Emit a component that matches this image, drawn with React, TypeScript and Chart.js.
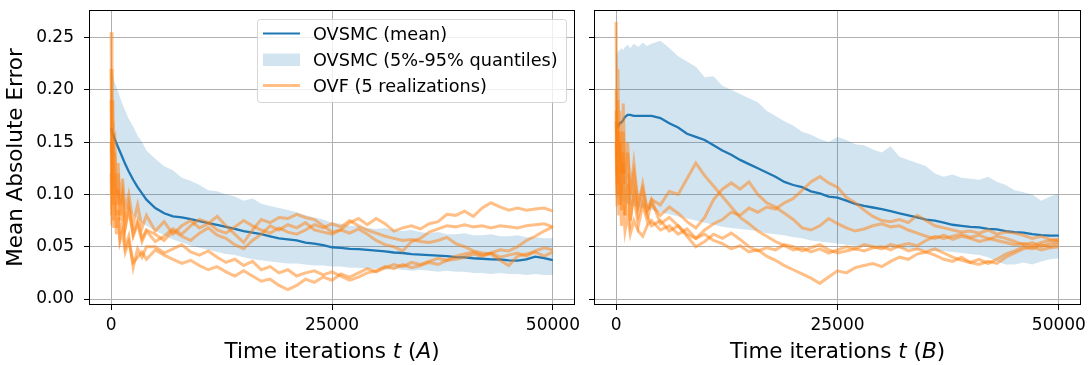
import React, { useEffect, useRef } from 'react';
import { Chart, registerables } from 'chart.js';

Chart.register(...registerables);

// ---------------- data ----------------
const T = [0, 100, 200, 300, 400, 600, 800, 1000, 1300, 1600, 2000, 2500, 3000, 3500, 4000,
  5000, 6000, 7000, 8000, 9000, 10000, 11000, 12000, 13000, 14000,
  15000, 16000, 17000, 18000, 19000, 20000, 21000, 22000, 23000, 24000,
  25000, 26000, 27000, 28000, 29000, 30000, 31000, 32000, 33000, 34000,
  35000, 36000, 37000, 38000, 39000, 40000, 41000, 42000, 43000, 44000,
  45000, 46000, 47000, 48000, 49000, 50000];

const X_TICKS = [0, 25000, 50000];
const Y_TICKS = [0, 0.05, 0.1, 0.15, 0.2, 0.25];
const Y_LABEL = 'Mean Absolute Error';
const X_TITLE_PARTS: [string, boolean][] = [['Time iterations ', false], ['t', true], [' (', false], ['#', true], [')', false]];
const PANEL_LETTERS = ['A', 'B'];
const LEGEND_LABELS = ['OVSMC (mean)', 'OVSMC (5%-95% quantiles)', 'OVF (5 realizations)'];

// Panel A
const meanA = [0.163, 0.160, 0.158, 0.156, 0.153, 0.149, 0.145, 0.141, 0.135, 0.129, 0.122, 0.114, 0.107, 0.101, 0.095,
  0.087, 0.082, 0.079, 0.078, 0.0765, 0.0745, 0.0725, 0.071, 0.069, 0.067,
  0.065, 0.0635, 0.062, 0.060, 0.058, 0.057, 0.056, 0.054, 0.053, 0.0515,
  0.0495, 0.049, 0.048, 0.0478, 0.047, 0.0462, 0.0455, 0.0445, 0.044, 0.043,
  0.0425, 0.042, 0.0415, 0.041, 0.040, 0.0398, 0.039, 0.0385, 0.038, 0.0378,
  0.037, 0.0368, 0.038, 0.0405, 0.039, 0.0373];
const upperA = [0.222, 0.219, 0.215, 0.211, 0.207, 0.203, 0.198, 0.193, 0.186, 0.180, 0.172, 0.165, 0.156, 0.150, 0.142,
  0.134, 0.127, 0.123, 0.116, 0.113, 0.109, 0.104, 0.103, 0.100, 0.098,
  0.094, 0.096, 0.091, 0.089, 0.087, 0.085, 0.083, 0.080, 0.078, 0.076,
  0.073, 0.072, 0.070, 0.070, 0.068, 0.067, 0.068, 0.066, 0.065, 0.066,
  0.064, 0.063, 0.064, 0.062, 0.062, 0.063, 0.061, 0.061, 0.062, 0.060,
  0.060, 0.061, 0.059, 0.059, 0.058, 0.058];
const lowerA = [0.128, 0.118, 0.110, 0.104, 0.100, 0.097, 0.095, 0.093, 0.090, 0.088, 0.084, 0.080, 0.077, 0.073, 0.070,
  0.065, 0.061, 0.057, 0.054, 0.051, 0.049, 0.047, 0.045, 0.043, 0.042,
  0.040, 0.038, 0.037, 0.036, 0.035, 0.034, 0.034, 0.033, 0.032, 0.032,
  0.031, 0.031, 0.030, 0.030, 0.029, 0.029, 0.028, 0.029, 0.028, 0.027,
  0.028, 0.027, 0.026, 0.027, 0.026, 0.026, 0.025, 0.025, 0.024, 0.025,
  0.024, 0.024, 0.023, 0.024, 0.023, 0.023];
const ovfA1 = [0.255, 0.14, 0.19, 0.12, 0.16, 0.10, 0.13, 0.09, 0.115, 0.085, 0.10, 0.072, 0.09, 0.068, 0.08,
  0.065, 0.074, 0.062, 0.070, 0.075, 0.068, 0.072, 0.079, 0.070, 0.062,
  0.054, 0.066, 0.076, 0.073, 0.078, 0.077, 0.081, 0.078, 0.076, 0.070,
  0.064, 0.066, 0.073, 0.077, 0.071, 0.077, 0.072, 0.065, 0.068, 0.070,
  0.067, 0.072, 0.074, 0.081, 0.080, 0.084, 0.079, 0.087, 0.092, 0.088,
  0.085, 0.087, 0.085, 0.086, 0.087, 0.084];
const ovfA2 = [0.19, 0.10, 0.15, 0.09, 0.12, 0.08, 0.105, 0.075, 0.095, 0.068, 0.085, 0.062, 0.075, 0.058, 0.066,
  0.062, 0.056, 0.065, 0.060, 0.056, 0.063, 0.068, 0.061, 0.058, 0.052,
  0.048, 0.056, 0.062, 0.070, 0.066, 0.071, 0.068, 0.073, 0.066, 0.064,
  0.062, 0.066, 0.063, 0.067, 0.062, 0.056, 0.052, 0.050, 0.046, 0.055,
  0.058, 0.064, 0.067, 0.070, 0.069, 0.071, 0.069, 0.070, 0.068, 0.070,
  0.069, 0.068, 0.070, 0.071, 0.072, 0.069];
const ovfA3 = [0.22, 0.12, 0.17, 0.10, 0.14, 0.09, 0.12, 0.08, 0.10, 0.07, 0.09, 0.06, 0.072, 0.055, 0.065,
  0.055, 0.060, 0.067, 0.062, 0.070, 0.076, 0.073, 0.066, 0.063, 0.069,
  0.075, 0.070, 0.066, 0.063, 0.068, 0.064, 0.062, 0.066, 0.071, 0.068,
  0.072, 0.069, 0.075, 0.070, 0.066, 0.063, 0.060, 0.058, 0.056, 0.057,
  0.055, 0.054, 0.056, 0.059, 0.053, 0.050, 0.046, 0.044, 0.043, 0.037,
  0.032, 0.041, 0.043, 0.045, 0.041, 0.045];
const ovfA4 = [0.15, 0.08, 0.12, 0.075, 0.10, 0.068, 0.085, 0.06, 0.075, 0.05, 0.06, 0.03, 0.048, 0.04, 0.05,
  0.05, 0.044, 0.048, 0.052, 0.045, 0.042, 0.046, 0.04, 0.035, 0.038,
  0.032, 0.036, 0.028, 0.031, 0.025, 0.028, 0.022, 0.025, 0.027, 0.023,
  0.026, 0.022, 0.018, 0.021, 0.025, 0.027, 0.031, 0.029, 0.033, 0.030,
  0.032, 0.035, 0.033, 0.037, 0.038, 0.040, 0.043, 0.041, 0.044, 0.047,
  0.046, 0.050, 0.056, 0.060, 0.065, 0.069];
const ovfA5 = [0.12, 0.07, 0.10, 0.068, 0.09, 0.062, 0.078, 0.055, 0.065, 0.045, 0.055, 0.035, 0.04, 0.045, 0.038,
  0.047, 0.042, 0.038, 0.034, 0.037, 0.032, 0.028, 0.031, 0.026, 0.022,
  0.027, 0.022, 0.017, 0.019, 0.013, 0.009, 0.013, 0.019, 0.016, 0.021,
  0.018, 0.024, 0.021, 0.025, 0.029, 0.026, 0.030, 0.033, 0.031, 0.035,
  0.033, 0.036, 0.039, 0.037, 0.041, 0.043, 0.045, 0.042, 0.044, 0.040,
  0.042, 0.044, 0.041, 0.046, 0.049, 0.047];

// Panel B
const meanB = [0.166, 0.165, 0.167, 0.166, 0.168, 0.169, 0.171, 0.174, 0.176, 0.176, 0.175, 0.175, 0.175, 0.175, 0.175,
  0.173, 0.168, 0.164, 0.158, 0.155, 0.152, 0.147, 0.142, 0.138, 0.133,
  0.129, 0.125, 0.121, 0.117, 0.112, 0.109, 0.107, 0.103, 0.101, 0.098,
  0.097, 0.094, 0.091, 0.089, 0.0875, 0.086, 0.084, 0.082, 0.080, 0.078,
  0.076, 0.075, 0.073, 0.071, 0.070, 0.069, 0.0685, 0.067, 0.0665, 0.065,
  0.064, 0.0635, 0.062, 0.061, 0.0607, 0.0607];
const upperB = [0.232, 0.235, 0.236, 0.238, 0.237, 0.240, 0.238, 0.241, 0.243, 0.240, 0.244, 0.241, 0.245, 0.242, 0.244,
  0.247, 0.240, 0.232, 0.227, 0.222, 0.212, 0.213, 0.204, 0.200, 0.196,
  0.192, 0.188, 0.180, 0.175, 0.170, 0.166, 0.160, 0.157, 0.153, 0.150,
  0.155, 0.152, 0.148, 0.147, 0.143, 0.140, 0.146, 0.136, 0.133, 0.130,
  0.127, 0.120, 0.117, 0.119, 0.116, 0.115, 0.114, 0.117, 0.112, 0.109,
  0.104, 0.102, 0.100, 0.094, 0.098, 0.101];
const lowerB = [0.100, 0.098, 0.097, 0.096, 0.095, 0.094, 0.093, 0.092, 0.091, 0.090, 0.089, 0.088, 0.087, 0.086, 0.085,
  0.083, 0.081, 0.079, 0.077, 0.075, 0.073, 0.071, 0.069, 0.068, 0.067,
  0.066, 0.065, 0.063, 0.062, 0.061, 0.059, 0.058, 0.056, 0.055, 0.054,
  0.053, 0.052, 0.051, 0.050, 0.050, 0.049, 0.049, 0.048, 0.048, 0.047,
  0.047, 0.046, 0.046, 0.045, 0.044, 0.043, 0.042, 0.040, 0.036, 0.033,
  0.033, 0.035, 0.033, 0.036, 0.038, 0.039];
const ovfB1 = [0.265, 0.15, 0.22, 0.13, 0.18, 0.12, 0.16, 0.11, 0.14, 0.10, 0.12, 0.09, 0.105, 0.085, 0.095,
  0.072, 0.078, 0.070, 0.062, 0.058, 0.066, 0.072, 0.076, 0.083, 0.080,
  0.087, 0.083, 0.088, 0.086, 0.092, 0.096, 0.104, 0.112, 0.117, 0.111,
  0.107, 0.097, 0.092, 0.085, 0.079, 0.075, 0.074, 0.076, 0.073, 0.080,
  0.075, 0.070, 0.068, 0.066, 0.064, 0.065, 0.063, 0.066, 0.062, 0.064,
  0.063, 0.061, 0.058, 0.060, 0.057, 0.056];
const ovfB2 = [0.20, 0.11, 0.17, 0.10, 0.15, 0.09, 0.13, 0.08, 0.11, 0.075, 0.10, 0.07, 0.09, 0.075, 0.095,
  0.09, 0.103, 0.10, 0.115, 0.130, 0.118, 0.108, 0.098, 0.088, 0.078,
  0.072, 0.065, 0.060, 0.055, 0.051, 0.047, 0.049, 0.045, 0.048, 0.044,
  0.047, 0.050, 0.048, 0.052, 0.050, 0.048, 0.052, 0.050, 0.046, 0.048,
  0.045, 0.042, 0.038, 0.036, 0.040, 0.035, 0.038, 0.034, 0.038, 0.043,
  0.046, 0.050, 0.048, 0.052, 0.050, 0.053];
const ovfB3 = [0.18, 0.12, 0.16, 0.11, 0.15, 0.10, 0.187, 0.12, 0.15, 0.10, 0.13, 0.09, 0.11, 0.085, 0.09,
  0.08, 0.088, 0.082, 0.074, 0.068, 0.078, 0.095, 0.105, 0.111, 0.105,
  0.112, 0.10, 0.092, 0.088, 0.082, 0.076, 0.068, 0.066, 0.070, 0.077,
  0.072, 0.068, 0.065, 0.067, 0.070, 0.072, 0.069, 0.070, 0.066, 0.063,
  0.060, 0.058, 0.061, 0.057, 0.060, 0.058, 0.055, 0.057, 0.060, 0.058,
  0.055, 0.052, 0.054, 0.050, 0.053, 0.055];
const ovfB4 = [0.15, 0.09, 0.13, 0.08, 0.11, 0.07, 0.09, 0.065, 0.08, 0.062, 0.075, 0.065, 0.06, 0.07, 0.075,
  0.066, 0.07, 0.062, 0.067, 0.058, 0.062, 0.056, 0.053, 0.048, 0.051,
  0.045, 0.047, 0.041, 0.037, 0.032, 0.028, 0.024, 0.020, 0.015, 0.021,
  0.027, 0.025, 0.030, 0.032, 0.034, 0.031, 0.036, 0.040, 0.038, 0.043,
  0.045, 0.048, 0.044, 0.040, 0.037, 0.035, 0.033, 0.036, 0.034, 0.040,
  0.044, 0.048, 0.050, 0.047, 0.049, 0.050];
const ovfB5 = [0.17, 0.10, 0.19, 0.09, 0.16, 0.085, 0.14, 0.08, 0.12, 0.075, 0.105, 0.08, 0.095, 0.08, 0.07,
  0.075, 0.065, 0.07, 0.060, 0.050, 0.055, 0.062, 0.058, 0.063, 0.057,
  0.050, 0.046, 0.049, 0.047, 0.052, 0.050, 0.046, 0.049, 0.052, 0.047,
  0.044, 0.046, 0.048, 0.046, 0.049, 0.050, 0.047, 0.051, 0.053, 0.051,
  0.056, 0.060, 0.058, 0.060, 0.062, 0.059, 0.061, 0.058, 0.056, 0.054,
  0.052, 0.053, 0.051, 0.054, 0.056, 0.057];

// ---------------- styling ----------------
const FONT = "'DejaVu Sans', sans-serif";
const BLUE = '#1f77b4';
const ORANGE = 'rgba(255,127,14,0.5)';
const BAND = 'rgba(31,119,180,0.2)';
const GRID = '#b0b0b0';
const TITLE_SIZE = 21.5;
const TICK_SIZE = 17;
const LEGEND_SIZE = 17.7;

type PanelCfg = {
  letter: string;
  mean: number[];
  upper: number[];
  lower: number[];
  lines: number[][];
  showY: boolean;
  legend: boolean;
  left: number;
  width: number;
  yWidth: number;
  padRight: number;
};

const pts = (ys: number[]) => T.map((t, i) => ({ x: t, y: ys[i] }));

function decorPlugin(p: PanelCfg) {
  return {
    id: 'decor' + p.letter,
    afterDatasetsDraw(chart: any) {
      const { ctx, chartArea: a } = chart;
      ctx.save();
      // frame (spines)
      ctx.strokeStyle = '#000';
      ctx.lineWidth = 1;
      ctx.strokeRect(Math.round(a.left) + 0.5, Math.round(a.top) + 0.5,
        Math.round(a.right - a.left) - 1, Math.round(a.bottom - a.top) - 1);
      // x title with italic parts
      const parts = X_TITLE_PARTS.map(([s, it]) => [s === '#' ? p.letter : s, it] as [string, boolean]);
      const widths = parts.map(([s, it]) => {
        ctx.font = `${it ? 'italic ' : ''}${TITLE_SIZE}px ${FONT}`;
        return ctx.measureText(s).width;
      });
      const total = widths.reduce((u, v) => u + v, 0);
      let x = (a.left + a.right) / 2 - total / 2;
      ctx.fillStyle = '#000';
      ctx.textBaseline = 'alphabetic';
      ctx.textAlign = 'left';
      parts.forEach(([s, it], i) => {
        ctx.font = `${it ? 'italic ' : ''}${TITLE_SIZE}px ${FONT}`;
        ctx.fillText(s, x, 358);
        x += widths[i];
      });
      // legend
      if (p.legend) {
        const bx = 257.5, by = 19.5, bw = 309, bh = 83;
        ctx.beginPath();
        ctx.roundRect(bx, by, bw, bh, 3);
        ctx.fillStyle = 'rgba(255,255,255,0.8)';
        ctx.fill();
        ctx.strokeStyle = 'rgba(204,204,204,0.8)';
        ctx.lineWidth = 1;
        ctx.stroke();
        const baselines = [39.5, 65.5, 91.5];
        ctx.lineWidth = 2.2;
        ctx.strokeStyle = BLUE;
        ctx.beginPath(); ctx.moveTo(263, 33.5); ctx.lineTo(300, 33.5); ctx.stroke();
        ctx.fillStyle = BAND;
        ctx.fillRect(263, 53.5, 37, 12.5);
        ctx.strokeStyle = ORANGE;
        ctx.lineWidth = 2.8;
        ctx.beginPath(); ctx.moveTo(263, 85.5); ctx.lineTo(300, 85.5); ctx.stroke();
        ctx.fillStyle = '#000';
        ctx.font = `${LEGEND_SIZE}px ${FONT}`;
        LEGEND_LABELS.forEach((s, i) => ctx.fillText(s, 313, baselines[i]));
      }
      ctx.restore();
    },
  };
}

function buildConfig(p: PanelCfg): any {
  const lineDs = p.lines.map((ys) => ({
    data: pts(ys), borderColor: ORANGE, borderWidth: 3, pointRadius: 0,
    fill: false, order: 0, tension: 0,
  }));
  const datasets: any[] = [
    ...lineDs,
    { data: pts(p.mean), borderColor: BLUE, borderWidth: 2.3, pointRadius: 0, fill: false, order: 1 },
    { data: pts(p.upper), borderColor: 'rgba(0,0,0,0)', borderWidth: 0, backgroundColor: BAND, pointRadius: 0, fill: '+1', order: 2 },
    { data: pts(p.lower), borderColor: 'rgba(0,0,0,0)', borderWidth: 0, pointRadius: 0, fill: false, order: 2 },
  ];
  const gridOpts = { color: GRID, lineWidth: 1, tickColor: '#000', tickLength: 5, tickWidth: 1, drawTicks: true };
  return {
    type: 'line',
    data: { datasets },
    options: {
      animation: false,
      responsive: false,
      devicePixelRatio: 1,
      events: [],
      layout: { padding: { top: 10, right: p.padRight, left: 0, bottom: 0 } },
      plugins: { legend: { display: false }, tooltip: { enabled: false } },
      scales: {
        x: {
          type: 'linear', min: -2500, max: 52500,
          afterBuildTicks: (s: any) => { s.ticks = X_TICKS.map((v) => ({ value: v })); },
          afterFit: (s: any) => { s.height = 60; s.paddingLeft = 0; s.paddingRight = 0; },
          grid: gridOpts,
          border: { display: false },
          ticks: {
            color: '#000', font: { family: FONT, size: TICK_SIZE }, padding: 5,
            maxRotation: 0, autoSkip: false, callback: (v: any) => String(v),
          },
        },
        y: {
          type: 'linear', min: -0.0057, max: 0.2763,
          afterBuildTicks: (s: any) => { s.ticks = Y_TICKS.map((v) => ({ value: v })); },
          afterFit: (s: any) => { s.width = p.yWidth; s.paddingTop = 0; s.paddingBottom = 0; },
          grid: gridOpts,
          border: { display: false },
          ticks: {
            display: p.showY, color: '#000', font: { family: FONT, size: TICK_SIZE }, padding: 10,
            callback: (v: any) => Number(v).toFixed(2),
          },
          title: {
            display: p.showY, text: Y_LABEL, color: '#000',
            font: { family: FONT, size: TITLE_SIZE }, padding: { top: 4, bottom: 0 },
          },
        },
      },
    },
    plugins: [decorPlugin(p)],
  };
}

const PANELS: PanelCfg[] = [
  {
    letter: PANEL_LETTERS[0], mean: meanA, upper: upperA, lower: lowerA,
    lines: [ovfA1, ovfA2, ovfA3, ovfA4, ovfA5],
    showY: true, legend: true, left: 0, width: 590, yWidth: 89, padRight: 15,
  },
  {
    letter: PANEL_LETTERS[1], mean: meanB, upper: upperB, lower: lowerB,
    lines: [ovfB1, ovfB2, ovfB3, ovfB4, ovfB5],
    showY: false, legend: false, left: 585, width: 505, yWidth: 9, padRight: 9,
  },
];

function PanelChart({ cfg }: { cfg: PanelCfg }) {
  const ref = useRef<HTMLCanvasElement>(null);
  useEffect(() => {
    const chart = new Chart(ref.current as HTMLCanvasElement, buildConfig(cfg));
    return () => chart.destroy();
  }, [cfg]);
  return (
    <canvas
      ref={ref}
      width={cfg.width}
      height={365}
      style={{ position: 'absolute', left: cfg.left, top: 0, width: cfg.width, height: 365 }}
    />
  );
}

export default function App() {
  return (
    <div style={{ position: 'absolute', left: 0, top: 0, width: 1090, height: 365, background: '#fff' }}>
      {PANELS.map((p) => <PanelChart key={p.letter} cfg={p} />)}
    </div>
  );
}
